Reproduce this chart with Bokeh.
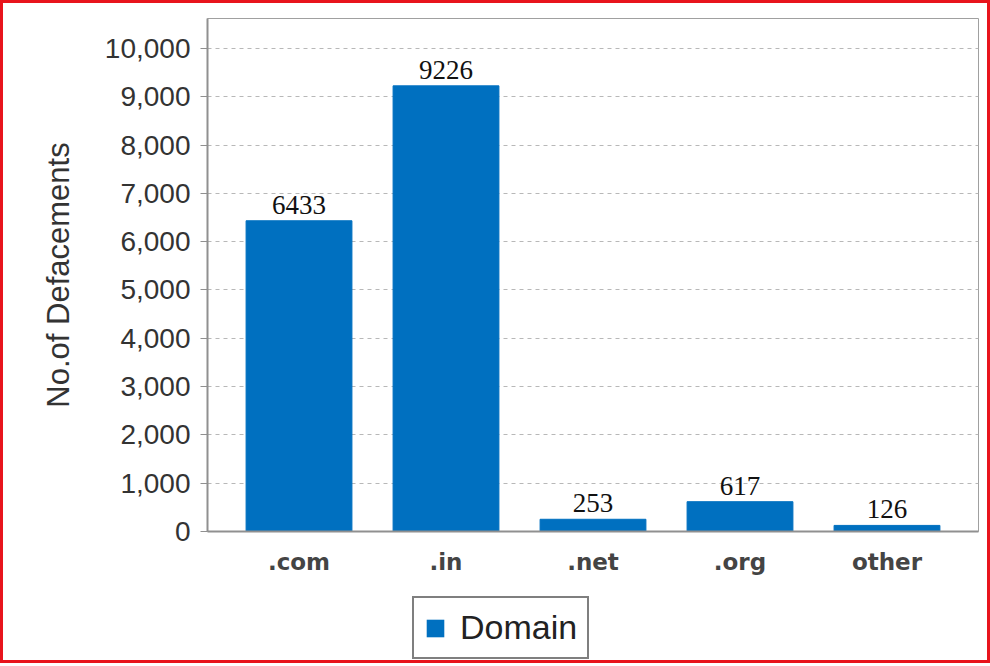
from bokeh.plotting import figure
from bokeh.layouts import column
from bokeh.models import (FactorRange, Range1d, FixedTicker, NumeralTickFormatter,
                          Legend, LegendItem, ColumnDataSource)
from bokeh.core.properties import value
from bokeh.embed import file_html
from bokeh.resources import INLINE

categories = [".com", ".in", ".net", ".org", "other"]
defacements = [6433, 9226, 253, 617, 126]
value_labels = [str(v) for v in defacements]
y_ticks = [0, 1000, 2000, 3000, 4000, 5000, 6000, 7000, 8000, 9000, 10000]
series_name = "Domain"
y_title = "No.of Defacements"

BAR = "#0070c0"

src = ColumnDataSource(dict(cat=categories, val=defacements, lab=value_labels))

p = figure(
    x_range=FactorRange(factors=categories, range_padding=0.049),
    y_range=Range1d(0, 10620),
    width=984, height=580,
    output_backend="svg", toolbar_location=None,
    min_border_left=204, min_border_right=9, min_border_top=15, min_border_bottom=52,
    background_fill_color="white", border_fill_color="white",
)

p.outline_line_color = "#a0a0a0"
p.outline_line_width = 1

r = p.vbar(x="cat", top="val", width=0.72, source=src, fill_color=BAR, line_color=BAR)

p.text(x="cat", y="val", text="lab", source=src, text_align="center",
       text_baseline="bottom", y_offset=-7, text_font=value("Liberation Serif"),
       text_font_size="27px", text_color="#111111")

# grid
p.xgrid.visible = False
p.ygrid.grid_line_color = "#b8b8b8"
p.ygrid.grid_line_dash = "4 4"
p.ygrid.grid_line_width = 1
p.ygrid.ticker = FixedTicker(ticks=y_ticks)

# y axis
p.yaxis.ticker = FixedTicker(ticks=y_ticks)
p.yaxis.formatter = NumeralTickFormatter(format="0,0")
p.yaxis.axis_label = y_title
p.yaxis.axis_label_text_font = "Liberation Sans"
p.yaxis.axis_label_text_font_size = "31px"
p.yaxis.axis_label_text_font_style = "normal"
p.yaxis.axis_label_text_color = "#333333"
p.yaxis.axis_label_standoff = 26
p.yaxis.major_label_text_font = "Liberation Sans"
p.yaxis.major_label_text_font_size = "28px"
p.yaxis.major_label_text_color = "#333333"
p.yaxis.major_label_standoff = 10
p.yaxis.axis_line_color = "#909090"
p.yaxis.axis_line_width = 2
p.yaxis.major_tick_line_color = "#909090"
p.yaxis.major_tick_out = 7
p.yaxis.major_tick_in = 0
p.yaxis.minor_tick_line_color = None

# x axis
p.xaxis.major_label_text_font = "DejaVu Sans"
p.xaxis.major_label_text_font_style = "bold"
p.xaxis.major_label_text_font_size = "23px"
p.xaxis.major_label_text_color = "#444444"
p.xaxis.major_label_standoff = 11
p.xaxis.axis_line_color = "#909090"
p.xaxis.axis_line_width = 2
p.xaxis.major_tick_line_color = None
p.xaxis.minor_tick_line_color = None

# legend strip below the chart (its bars lie entirely outside the visible y range)
lf = figure(width=984, height=77, output_backend="svg", toolbar_location=None,
            x_range=FactorRange(factors=categories), y_range=Range1d(20000, 30000),
            min_border=0, min_border_left=0, min_border_right=0,
            min_border_top=0, min_border_bottom=0,
            background_fill_color="white", border_fill_color="white")
lf.axis.visible = False
lf.grid.visible = False
lf.outline_line_color = None
swatch = lf.vbar(x="cat", top="val", width=0.72, source=src,
                 fill_color=BAR, line_color=None)

legend = Legend(items=[LegendItem(label=series_name, renderers=[swatch])],
                location=(205, 1), orientation="horizontal",
                label_text_font="Liberation Sans", label_text_font_size="34px",
                label_text_color="#222222",
                glyph_width=22, glyph_height=22, label_standoff=14,
                padding=10, margin=0,
                border_line_color="#000000", border_line_width=2,
                background_fill_color="white")
lf.add_layout(legend, "center")

layout = column(p, lf, spacing=0, styles={"border": "3px solid #e8141c"})

open("out.html", "w").write(file_html(layout, INLINE))
